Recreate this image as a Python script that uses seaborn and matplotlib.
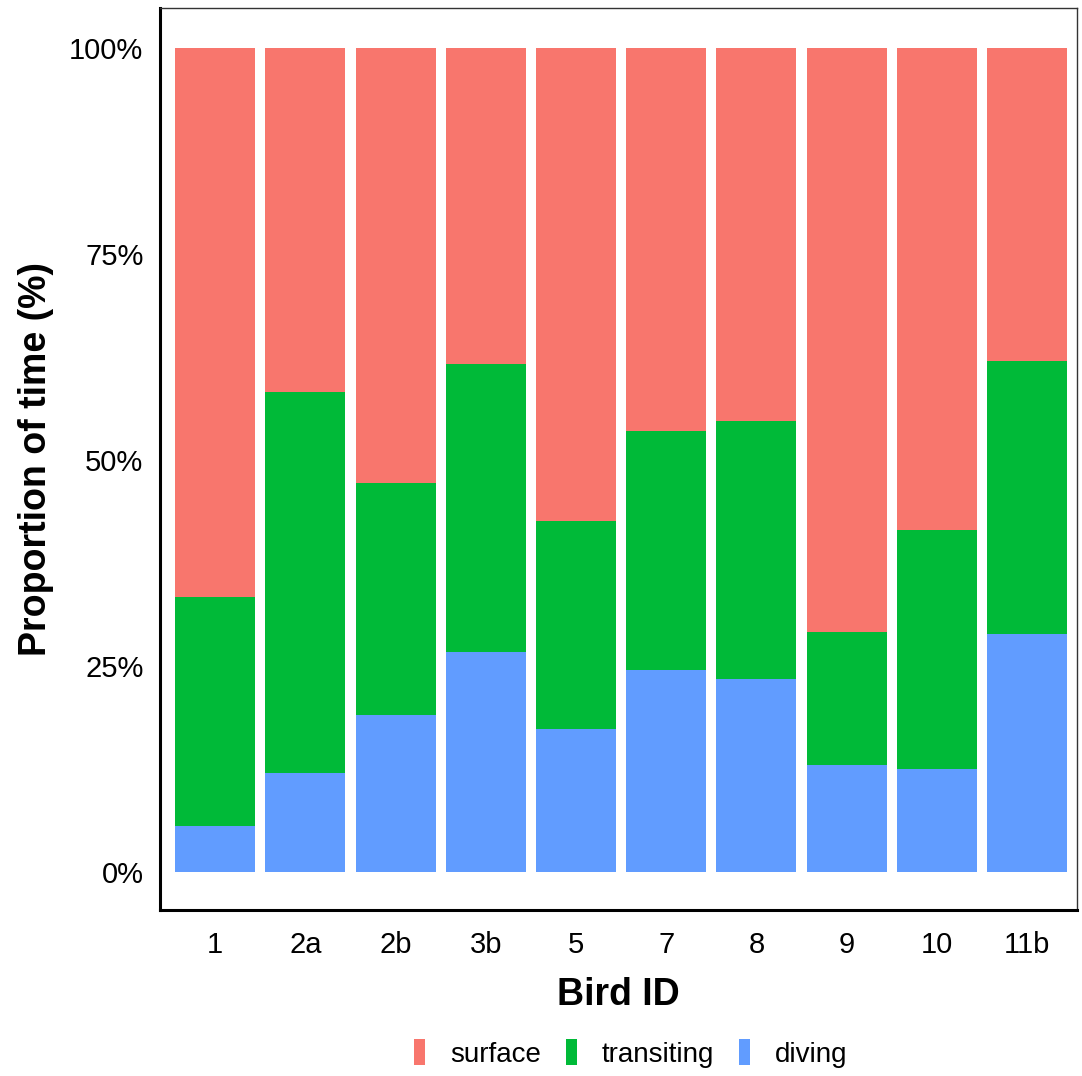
import matplotlib
matplotlib.use("Agg")
import matplotlib.pyplot as plt
import seaborn as sns
import pandas as pd
import numpy as np
from matplotlib.patches import Patch

# data (percent of time per behaviour)
birds = ["1", "2a", "2b", "3b", "5", "7", "8", "9", "10", "11b"]
diving = [5.6, 12.0, 19.1, 26.7, 17.4, 24.6, 23.4, 13.0, 12.5, 28.9]
transiting = [27.8, 46.3, 28.1, 35.0, 25.2, 28.9, 31.3, 16.1, 29.0, 33.1]
surface = [100 - d - t for d, t in zip(diving, transiting)]

colors = {"surface": "#F8766D", "transiting": "#00BA38", "diving": "#619CFF"}

df = pd.DataFrame({"bird": birds, "diving": diving,
                   "transiting": transiting, "surface": surface})
df["top_transit"] = df["diving"] + df["transiting"]
df["top_surface"] = df["top_transit"] + df["surface"]

sns.set_style("white")
plt.rcParams["font.family"] = ["Liberation Sans", "DejaVu Sans"]
plt.rcParams["text.color"] = "black"
plt.rcParams["axes.labelcolor"] = "black"

fig = plt.figure(figsize=(10.82, 10.76), dpi=100)
ax = fig.add_axes([0.148, 0.154, 0.847, 0.8386])

w = 0.886
for col, key in [("top_surface", "surface"), ("top_transit", "transiting"), ("diving", "diving")]:
    sns.barplot(data=df, x="bird", y=col, color=colors[key], width=w,
                saturation=1, linewidth=0, ax=ax)

ax.set_ylim(-4.6, 104.85)
ax.set_xlim(-0.609, 9.548)
ax.set_yticks([0, 25, 50, 75, 100])
ax.set_yticklabels(["0%", "25%", "50%", "75%", "100%"])
ax.tick_params(axis="both", labelsize=21, length=0, colors="black")
ax.tick_params(axis="y", pad=12)
ax.tick_params(axis="x", pad=15)
ax.set_xlabel("Bird ID", fontsize=27, fontweight="bold", labelpad=13)
ax.set_ylabel("Proportion of time (%)", fontsize=27, fontweight="bold", labelpad=11)

for side in ["left", "bottom"]:
    ax.spines[side].set_color("black")
    ax.spines[side].set_linewidth(2.2)
for side in ["top", "right"]:
    ax.spines[side].set_color("#333333")
    ax.spines[side].set_linewidth(1.0)
    ax.spines[side].set_visible(True)

handles = [Patch(facecolor=colors[k], edgecolor="none") for k in ["surface", "transiting", "diving"]]
fig.legend(handles, ["surface", "transiting", "diving"], loc="center",
           bbox_to_anchor=(0.583, 0.021), ncol=3, frameon=False, fontsize=20,
           handlelength=0.4, handleheight=1.05, handletextpad=0.9, columnspacing=0.9)

fig.savefig("out.png", dpi=100)
